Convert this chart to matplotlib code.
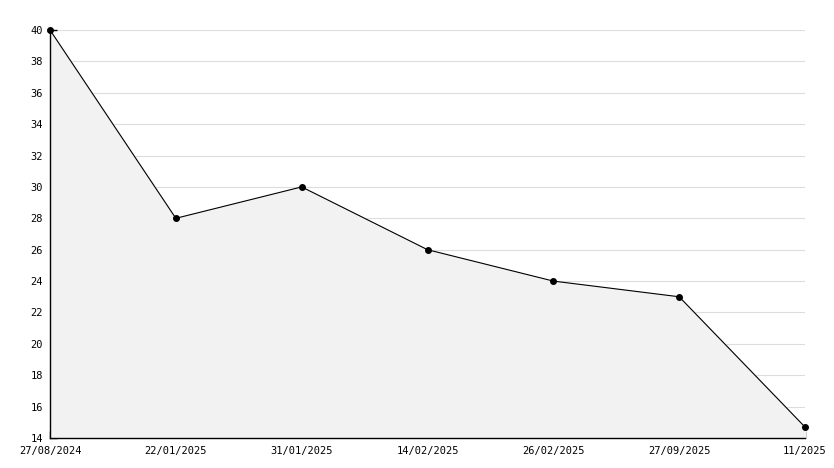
import matplotlib
matplotlib.use('Agg')
import matplotlib.pyplot as plt
from matplotlib.ticker import MultipleLocator

dates = ['27/08/2024', '22/01/2025', '31/01/2025', '14/02/2025',
         '26/02/2025', '27/09/2025', '11/2025']
values = [40, 28, 30, 26, 24, 23, 14.7]

plt.rcParams['font.family'] = 'DejaVu Sans Mono'

fig = plt.figure(figsize=(8.34, 4.68), dpi=100)
ax = fig.add_axes([50 / 834, 30 / 468, 755 / 834, 408 / 468])

x = list(range(len(dates)))
ax.fill_between(x, values, 14, color='#f2f2f2', zorder=1)
ax.plot(x, values, color='black', lw=0.8, marker='o', ms=4, zorder=3,
        clip_on=False)

ax.set_xlim(0, len(dates) - 1)
ax.set_ylim(14, 40)
ax.set_xticks(x)
ax.set_xticklabels(dates)
ax.yaxis.set_major_locator(MultipleLocator(2))
ax.yaxis.set_minor_locator(MultipleLocator(1))

ax.grid(axis='y', which='major', color='#dddddd', lw=0.8, zorder=0)
ax.set_axisbelow(True)

for side in ['top', 'right']:
    ax.spines[side].set_visible(False)
for side in ['left', 'bottom']:
    ax.spines[side].set_linewidth(1.0)

ax.tick_params(axis='both', which='major', direction='in', length=5,
               width=1, labelsize=7.5)
ax.tick_params(axis='y', which='minor', direction='in', length=4, width=1)
ax.tick_params(axis='y', pad=5)
ax.tick_params(axis='x', pad=5.5)

fig.savefig('out.png', dpi=100)
